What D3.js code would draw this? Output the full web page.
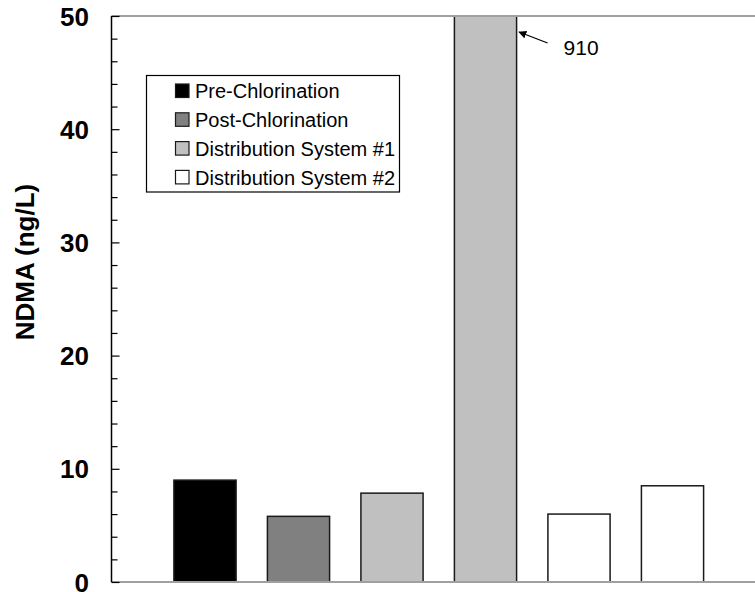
<!DOCTYPE html>
<html>
<head>
<meta charset="utf-8">
<script src="https://cdn.jsdelivr.net/npm/d3@7"></script>
<style>
  html, body { margin: 0; padding: 0; background: #ffffff; }
  svg { display: block; }
  text { font-family: "Liberation Sans", Arial, Helvetica, sans-serif; }
</style>
</head>
<body>
<svg id="chart" width="755" height="592"></svg>
<script>
// ---- Data ----
const categories = ["Pre-Cl A", "Post-Cl A", "Dist #1 A", "Dist #1 B", "Dist #2 A", "Dist #2 B"];
const values = [9.0, 5.8, 7.85, 910, 6.0, 8.5];
const seriesOfBar = [0, 1, 2, 2, 3, 3];
const seriesNames = ["Pre-Chlorination", "Post-Chlorination", "Distribution System #1", "Distribution System #2"];
const seriesColors = ["#000000", "#808080", "#c0c0c0", "#ffffff"];
const yTicks = [0, 10, 20, 30, 40, 50];
const yMinorTicks = [2, 4, 6, 8, 12, 14, 16, 18, 22, 24, 26, 28, 32, 34, 36, 38, 42, 44, 46, 48];
const yTitle = "NDMA (ng/L)";
const annotationText = "910";

// ---- Layout ----
const svg = d3.select("#chart");
const W = 755, H = 592;
const axisX = 111.5, plotTop = 16, plotBottom = 582;
const step = 93.5;

const y = d3.scaleLinear().domain([0, 50]).range([plotBottom, plotTop]);
const x = d3.scaleBand()
  .domain(categories)
  .range([axisX + step * 0.5, axisX + step * 6.5])
  .paddingInner(0.335)
  .paddingOuter(0.1675);

// clip for bars
svg.append("defs").append("clipPath").attr("id", "plotClip")
  .append("rect").attr("x", axisX).attr("y", plotTop).attr("width", W - axisX).attr("height", plotBottom - plotTop);

svg.append("defs").append("marker")
  .attr("id", "arrowHead")
  .attr("viewBox", "0 0 10 10")
  .attr("refX", 9).attr("refY", 5)
  .attr("markerWidth", 8).attr("markerHeight", 8)
  .attr("markerUnits", "userSpaceOnUse")
  .attr("orient", "auto")
  .append("path").attr("d", "M0,0 L10,5 L0,10 Z").attr("fill", "#000");

// bars
svg.append("g").attr("clip-path", "url(#plotClip)")
  .selectAll("rect").data(categories).join("rect")
  .attr("x", d => x(d))
  .attr("width", x.bandwidth())
  .attr("y", (d, i) => y(values[i]))
  .attr("height", (d, i) => plotBottom - y(values[i]))
  .attr("fill", (d, i) => seriesColors[seriesOfBar[i]])
  .attr("stroke", "#1a1a1a")
  .attr("stroke-width", 1.5);

// top border line (gray) and bottom axis line (gray)
svg.append("line").attr("x1", axisX).attr("x2", W).attr("y1", plotTop).attr("y2", plotTop)
  .attr("stroke", "#a0a0a0").attr("stroke-width", 2);
svg.append("line").attr("x1", axisX).attr("x2", W).attr("y1", plotBottom).attr("y2", plotBottom)
  .attr("stroke", "#a0a0a0").attr("stroke-width", 2);

// y axis: major ticks inward (to the right)
const yAxis = d3.axisRight(y).tickValues(yTicks).tickSize(8).tickFormat("");
const gAxis = svg.append("g").attr("transform", `translate(${axisX},0)`).call(yAxis);
gAxis.select(".domain").remove();
gAxis.selectAll(".tick line").attr("stroke", "#000").attr("stroke-width", 1.2);

const yMinor = d3.axisRight(y).tickValues(yMinorTicks).tickSize(6).tickFormat("");
const gMinor = svg.append("g").attr("transform", `translate(${axisX},0)`).call(yMinor);
gMinor.select(".domain").remove();
gMinor.selectAll(".tick line").attr("stroke", "#000").attr("stroke-width", 1.2);

svg.append("line").attr("x1", axisX).attr("x2", axisX).attr("y1", plotTop).attr("y2", plotBottom)
  .attr("stroke", "#000").attr("stroke-width", 1.5);

// tick labels
svg.append("g").selectAll("text").data(yTicks).join("text")
  .attr("x", 89)
  .attr("y", d => y(d) + 9.5)
  .attr("text-anchor", "end")
  .attr("font-size", 26)
  .attr("font-weight", "bold")
  .attr("fill", "#000")
  .text(d => d);

// y title
svg.append("text")
  .attr("transform", `translate(34,262) rotate(-90)`)
  .attr("text-anchor", "middle")
  .attr("font-size", 26)
  .attr("font-weight", "bold")
  .attr("fill", "#000")
  .text(yTitle);

// annotation for off-scale bar
const bigIdx = values.findIndex(v => v > 50);
const bx = x(categories[bigIdx]) + x.bandwidth();
svg.append("line")
  .attr("x1", bx + 31).attr("y1", y(50) + 27)
  .attr("x2", bx + 2.5).attr("y2", y(50) + 16)
  .attr("stroke", "#000").attr("stroke-width", 1.3)
  .attr("marker-end", "url(#arrowHead)");
svg.append("text")
  .attr("x", bx + 47).attr("y", y(50) + 39)
  .attr("font-size", 21)
  .attr("fill", "#000")
  .text(annotationText);

// legend
const lg = svg.append("g").attr("transform", "translate(146.5,75.5)");
lg.append("rect").attr("x", 0).attr("y", 0).attr("width", 253).attr("height", 116.5)
  .attr("fill", "#fff").attr("stroke", "#000").attr("stroke-width", 1.2);
const rows = lg.selectAll("g.row").data(seriesNames).join("g").attr("class", "row")
  .attr("transform", (d, i) => `translate(0, ${15.5 + i * 28.8})`);
rows.append("rect").attr("x", 29).attr("y", -7).attr("width", 13.5).attr("height", 13.5)
  .attr("fill", (d, i) => seriesColors[i]).attr("stroke", "#1a1a1a").attr("stroke-width", 1.2);
rows.append("text").attr("x", 48.5).attr("y", 7.2)
  .attr("font-size", 20).attr("fill", "#000")
  .text(d => d);
</script>
</body>
</html>
